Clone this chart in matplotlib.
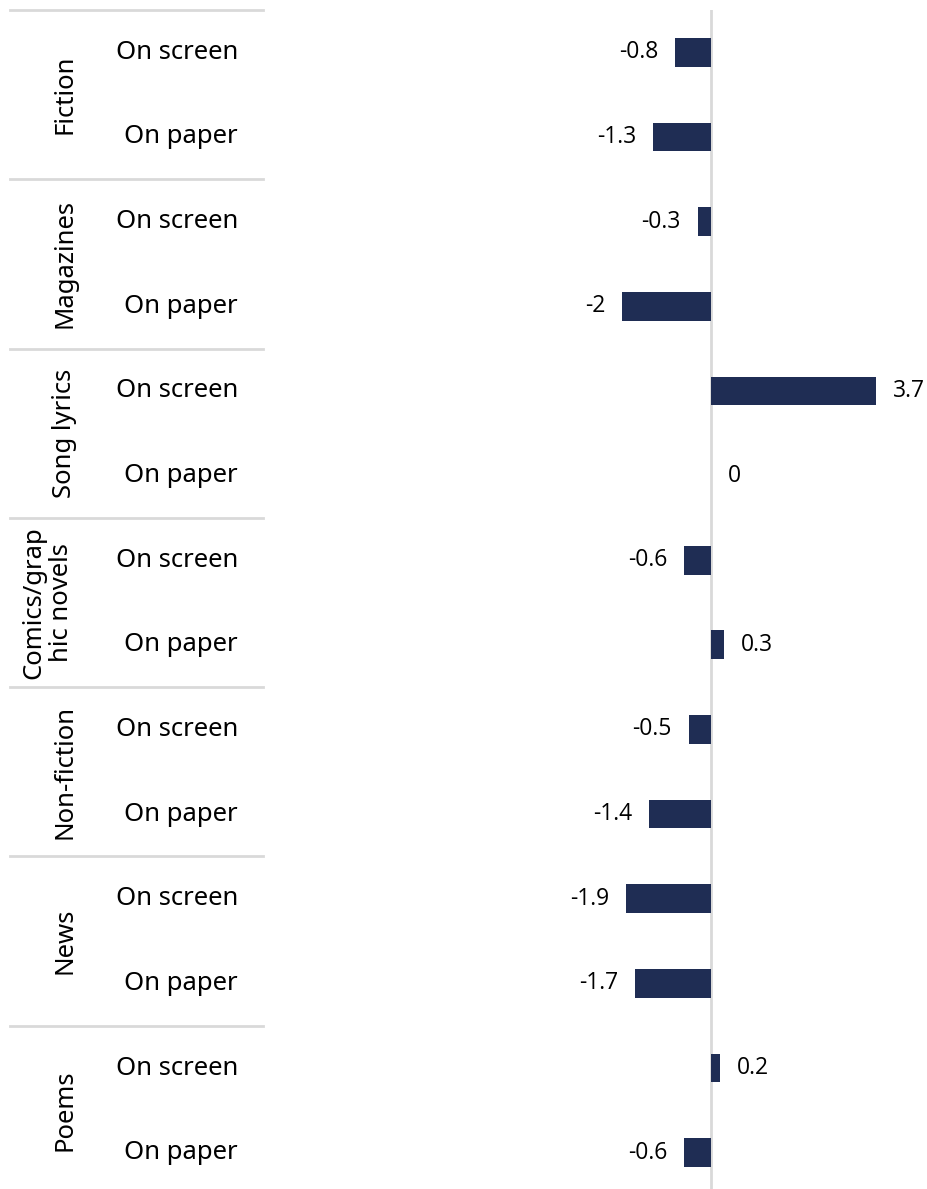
import matplotlib
matplotlib.use("Agg")
import matplotlib.pyplot as plt
from matplotlib.transforms import blended_transform_factory

categories = ["Fiction", "Magazines", "Song lyrics", "Comics/grap\nhic novels",
              "Non-fiction", "News", "Poems"]
sub_labels = ["On screen", "On paper"]
values = [-0.8, -1.3, -0.3, -2, 3.7, 0, -0.6, 0.3, -0.5, -1.4, -1.9, -1.7, 0.2, -0.6]

W, H = 928, 1189
fig = plt.figure(figsize=(W / 100, H / 100), dpi=100)
left_px, top_px, bottom_px = 400, 10, 1195
zero_px, px_per_unit = 711, 44.5
ax = fig.add_axes([left_px / W, 1 - bottom_px / H, 1 - left_px / W, (bottom_px - top_px) / H])

n = len(values)
ypos = list(range(n))
ax.barh(ypos, values, height=0.34, color="#1f2d54", edgecolor="none", zorder=3)
ax.axvline(0, color="#d9d9d9", lw=2, zorder=2)
ax.set_ylim(n - 0.5, -0.5)
ax.set_xlim(-(zero_px - left_px) / px_per_unit, (W - zero_px) / px_per_unit)
ax.axis("off")

lab_font = "Noto Sans"
val_font = "Open Sans"
for y, v in zip(ypos, values):
    off = 0.38
    if v < 0:
        ax.text(v - off, y, f"{v:g}", ha="right", va="center", fontsize=16.5, family=val_font)
    else:
        ax.text(v + off, y, f"{v:g}", ha="left", va="center", fontsize=16.5, family=val_font)

tr = blended_transform_factory(fig.transFigure, ax.transData)
for i, y in enumerate(ypos):
    ax.text(238 / W, y, sub_labels[i % 2], ha="right", va="center", fontsize=18.5,
            family=lab_font, transform=tr, clip_on=False)

for g, cat in enumerate(categories):
    yc = 2 * g + 0.5
    xc = 48 / W if "\n" in cat else 65 / W
    ax.text(xc, yc, cat, rotation=90, ha="center", va="center", fontsize=18.5,
            family=lab_font, transform=tr, clip_on=False, linespacing=1.15)
    ax.plot([10 / W, 263 / W], [2 * g - 0.5, 2 * g - 0.5], color="#d9d9d9", lw=2,
            transform=tr, clip_on=False)

fig.savefig("out.png", dpi=100)
